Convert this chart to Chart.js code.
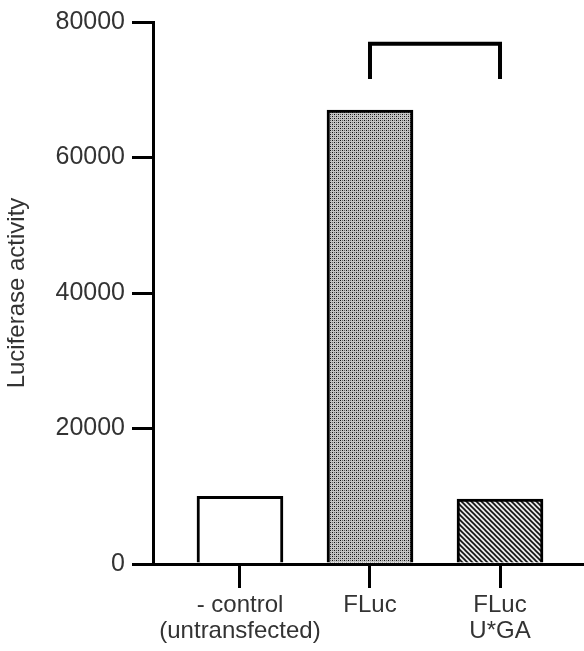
<!DOCTYPE html>
<html>
<head>
<meta charset="utf-8">
<script src="https://cdn.jsdelivr.net/npm/chart.js@4.4.1/dist/chart.umd.min.js"></script>
<style>
  html, body { margin: 0; padding: 0; background: #fff; }
  #wrap { width: 584px; height: 651px; }
</style>
</head>
<body>
<div id="wrap"><canvas id="chart"></canvas></div>
<script>
// chart data
const categories = [['- control', '(untransfected)'], ['FLuc'], ['FLuc', 'U*GA']];
const positions = [1, 2, 3];
const activity = [10000, 67000, 9600];
const yTicks = [0, 20000, 40000, 60000, 80000];

// significance bracket between FLuc and FLuc U*GA
const bracketFrom = 1;
const bracketTo = 2;
const bracketTop = 76800;
const bracketLegEnd = 71600;

const FONT = '"Liberation Sans", Arial, sans-serif';

//small repeating fill for the FLuc bar (fine dotted grey)
function dotPattern() {
	const c = document.createElement('canvas');
	c.width = 4; c.height = 4;
	const g = c.getContext('2d');
	g.fillStyle = '#c4c4c4';
	g.fillRect(0, 0, 4, 4);
	g.fillStyle = '#111';
	g.fillRect(0, 0, 1, 1);
	g.fillRect(2, 2, 1, 1);
	g.fillStyle = '#666';
	g.fillRect(2, 0, 1, 1);
	g.fillRect(0, 2, 1, 1);
	return g.createPattern(c, 'repeat');
}

//diagonal hatch for the U*GA bar
function hatchPattern() {
	const c = document.createElement('canvas');
	c.width = 5; c.height = 5;
	const g = c.getContext('2d');
	g.fillStyle = '#e8e8e8';
	g.fillRect(0, 0, 5, 5);
	g.strokeStyle = '#111';
	g.lineWidth = 1.6;
	g.beginPath();
	g.moveTo(-1, -1); g.lineTo(6, 6);
	g.moveTo(-1, 4); g.lineTo(1, 6);
	g.moveTo(4, -1); g.lineTo(6, 1);
	g.stroke();
	return g.createPattern(c, 'repeat');
}

//draws the bracket above the two FLuc bars using the chart scales
const bracketPlugin = {
	id: 'bracket',
	afterDatasetsDraw(chart) {
		const x = chart.scales.x, y = chart.scales.y;
		const ctx = chart.ctx;
		const x1 = x.getPixelForValue(positions[bracketFrom]);
		const x2 = x.getPixelForValue(positions[bracketTo]);
		const yt = y.getPixelForValue(bracketTop);
		const yb = y.getPixelForValue(bracketLegEnd);
		ctx.save();
		ctx.strokeStyle = '#000';
		ctx.lineWidth = 4;
		ctx.lineJoin = 'miter';
		ctx.beginPath();
		ctx.moveTo(x1, yb);
		ctx.lineTo(x1, yt);
		ctx.lineTo(x2, yt);
		ctx.lineTo(x2, yb);
		ctx.stroke();
		ctx.restore();
	}
};

const ctx = document.getElementById('chart').getContext('2d');

new Chart(ctx, {
	type: 'bar',
	data: {
		labels: positions,
		datasets: [{
			data: activity,
			backgroundColor: ['#ffffff', dotPattern(), hatchPattern()],
			borderColor: '#000',
			borderWidth: 3,
			borderSkipped: 'bottom',
			barThickness: 86
		}]
	},
	options: {
		responsive: true,
		maintainAspectRatio: false,
		animation: false,
		layout: { padding: { top: 21, right: 0, left: 0, bottom: 0 } },
		plugins: {
			legend: { display: false },
			tooltip: { enabled: false }
		},
		scales: {
			x: {
				type: 'linear',
				offset: false,
				min: 0.331,
				max: 3.646,
				afterBuildTicks: s => { s.ticks = positions.map(v => ({ value: v })); },
				afterFit: s => { s.height = 87; },
				grid: {
					offset: false,
					drawOnChartArea: false,
					drawTicks: true,
					tickLength: 24,
					tickWidth: 3,
					lineWidth: 3,
					color: '#000'
				},
				border: { display: true, color: '#000', width: 3 },
				ticks: {
					padding: 4,
					color: '#333',
					font: { family: FONT, size: 24, lineHeight: 1.1 },
					maxRotation: 0,
					autoSkip: false,
					callback: v => categories[positions.indexOf(v)]
				}
			},
			y: {
				min: 0,
				max: 80000,
				afterBuildTicks: s => { s.ticks = yTicks.map(v => ({ value: v })); },
				afterFit: s => { s.width = 153; },
				grid: {
					drawOnChartArea: false,
					drawTicks: true,
					tickLength: 21,
					tickWidth: 3,
					lineWidth: 3,
					color: '#000'
				},
				border: { display: true, color: '#000', width: 3 },
				ticks: {
					padding: 7,
					color: '#333',
					font: { family: FONT, size: 25 },
					callback: v => String(v)
				},
				title: {
					display: true,
					text: 'Luciferase activity',
					color: '#333',
					font: { family: FONT, size: 24 },
					padding: { top: 3, bottom: 0 }
				}
			}
		}
	},
	plugins: [bracketPlugin]
});
</script>
</body>
</html>
